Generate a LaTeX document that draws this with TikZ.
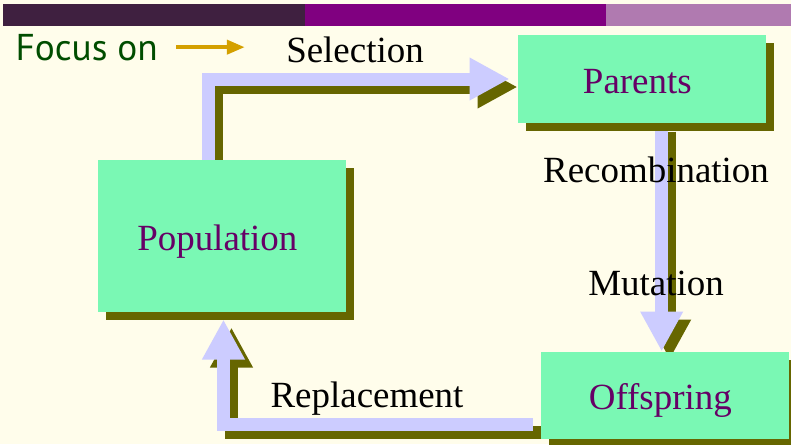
\documentclass[tikz,border=0pt]{standalone}
\usepackage{fontspec}
\setmainfont{Liberation Serif}
\newfontfamily\focusfont{PT Sans}
\usetikzlibrary{arrows.meta,shadows,backgrounds}

\definecolor{cream}{RGB}{255,253,235}
\definecolor{boxgreen}{RGB}{122,248,180}
\definecolor{shade}{RGB}{102,102,0}
\definecolor{flowblue}{RGB}{204,204,255}
\definecolor{txtpurple}{RGB}{102,0,102}
\definecolor{focusgreen}{RGB}{0,77,0}
\definecolor{gold}{RGB}{212,160,0}
\definecolor{bardark}{RGB}{63,32,64}
\definecolor{barmid}{RGB}{128,0,128}
\definecolor{barlight}{RGB}{176,122,176}

\tikzset{every picture/.style={line width=0.75pt}}
\tikzset{
  stage/.style={fill=boxgreen, minimum width=186pt, text=txtpurple,
    text height=21pt, text depth=0pt,
    font=\fontsize{27.7}{30}\selectfont,
    drop shadow={shadow xshift=6pt, shadow yshift=-6pt, fill=shade, opacity=1}},
  flow/.style={draw=flowblue, line width=9.75pt, line join=miter,
    -{Triangle[length=30pt,width=30pt]},
    preaction={draw=shade, line width=9.75pt, transform canvas={shift={(6pt,-6pt)}}}},
  oplabel/.style={inner sep=0pt, font=\fontsize{27.7}{30}\selectfont}
}

\begin{document}
\begin{tikzpicture}[x=0.75pt,y=-0.75pt]

\useasboundingbox (0,0) rectangle (791,444);
\begin{scope}[on background layer]
\fill [cream] (0,0) rectangle (791,444);
\end{scope}

\fill [bardark] (3,4) rectangle (305,26);
\fill [barmid] (305,4) rectangle (606,26);
\fill [barlight] (606,4) rectangle (791,26);

\node [stage, minimum height=66pt] (par) at (642,79) {\hspace*{-7pt}Parents};
\node [stage, minimum height=114pt] (pop) at (222,236) {\hspace*{-7pt}Population};
\node [stage, minimum height=65.25pt] (off) at (665,395.5) {\hspace*{-7pt}Offspring};

\node [anchor=base west, inner sep=0pt, text=focusgreen, font=\focusfont\fontsize{28}{30}\selectfont] (focus) at (15,60) {Focus on};
\node [oplabel] (sel) at (355,50) {Selection};
\node [oplabel] (rec) at (656,170) {Recombination};
\node [oplabel] (mut) at (656,283) {Mutation};
\node [oplabel] (rep) at (367,399) {Replacement};

\draw [gold, line width=3pt, -{Triangle[length=13.5pt,width=10.5pt]}, shorten <=13.5pt, shorten >=30.75pt] (focus.east) -- (focus.east -| sel.west);

\begin{scope}[on background layer]
\draw [flow, shorten >=6pt] ([xshift=-10pt]pop.north) |- (par.west);
\draw [flow] ([xshift=-2.5pt]off.north |- par.south) -- ([xshift=-2.5pt]off.north);
\draw [flow, shorten <=6pt, shorten >=5.25pt] ([yshift=-21.4pt]off.west) -| ([xshift=1.1pt]pop.south);
\end{scope}

\end{tikzpicture}
\end{document}
